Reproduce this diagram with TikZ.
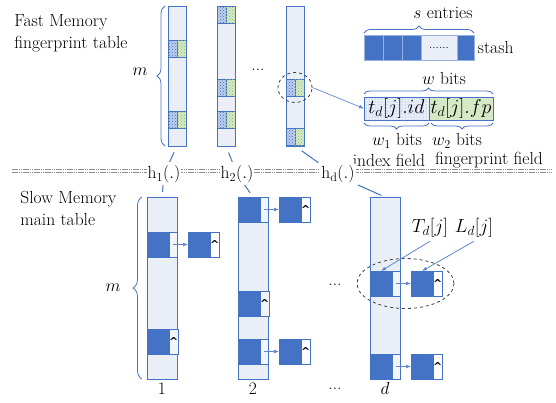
\RequirePackage{fix-cm}
\documentclass[tikz,border=0pt]{standalone}
\usepackage{fontspec}
\newfontfamily\capfont{DejaVu Sans}
\usetikzlibrary{positioning,calc,patterns,decorations.pathreplacing,arrows.meta,shapes.geometric}
\definecolor{mblue}{HTML}{4472C4}
\definecolor{mpale}{HTML}{E9EEF7}
\definecolor{mgreen}{HTML}{D5E9C6}
\definecolor{mdot}{HTML}{8FBF6F}
\definecolor{mgray}{HTML}{8C8C8C}
\newcommand{\nilptr}{\textasciicircum}
\tikzset{
  fcol/.style={draw=mblue,fill=mpale,inner sep=0,outer sep=0,minimum width=18pt,minimum height=140pt},
  scol/.style={fcol,minimum width=30pt,minimum height=182pt},
  idcell/.style={draw=mblue,fill=mblue!35,postaction={pattern=crosshatch dots,pattern color=mblue},inner sep=0,outer sep=0,minimum width=9pt,minimum height=17pt},
  fpcell/.style={draw=mblue,fill=mgreen,postaction={pattern=crosshatch dots,pattern color=mdot},inner sep=0,outer sep=0,minimum width=9pt,minimum height=17pt},
  dcell/.style={draw=mblue,fill=mblue,inner sep=0,outer sep=0,minimum width=22pt,minimum height=25pt},
  pcell/.style={draw=mblue,fill=mpale!60!white,inner sep=0,outer sep=0,minimum width=8pt,minimum height=25pt,font=\capfont\bfseries\fontsize{11}{11}\selectfont},
  stcell/.style={dcell,draw=mblue!55!white,minimum width=19pt},
  idfield/.style={draw=mblue,fill=mblue!12,postaction={pattern=dots,pattern color=mblue!70},inner sep=0,outer sep=0,minimum width=65pt,minimum height=23pt,font=\fontsize{20}{20}\selectfont},
  fpfield/.style={draw=mblue,fill=mgreen,inner sep=0,outer sep=0,minimum width=64pt,minimum height=23pt,font=\fontsize{20}{20}\selectfont},
  hashline/.style={draw=mblue,line width=1pt},
  ptr/.style={draw=mblue!85,line width=.7pt,-{Latex[length=5pt,width=4pt]}},
  brc/.style={draw=mblue,line width=.8pt,decorate,decoration={brace,amplitude=6pt}},
  ring/.style={ellipse,draw=black!75,dashed,line width=.8pt,inner sep=0},
  sep/.style={draw=mgray,line width=.5pt,dash pattern=on 1.5pt off .7pt},
  hlab/.style={fill=white,inner sep=1pt},
}
\begin{document}
\begin{tikzpicture}[x=1pt,y=-1pt,line width=.8pt,every node/.style={font=\fontsize{17.5}{22}\selectfont}]
\useasboundingbox (0,0) rectangle (556,402);
% fast memory: fingerprint table
\node[anchor=north west,align=left,inner sep=0] (fasttxt) at (14,14) {Fast Memory\\fingerprint table};
\foreach \n/\x in {f1/168,f2/217,fd/286} \node[fcol,anchor=north west] (\n) at (\x,6) {};
\foreach \x/\y [count=\i] in {168/40,168/111,217/6,217/79,217/111,286/79,286/128} {
  \node[idcell,anchor=north west] (id\i) at (\x,\y) {};
  \node[fpcell,right=0pt of id\i] (fp\i) {};
}
\draw[brc,decoration={amplitude=8pt}] ([xshift=-3pt]f1.south west) -- ([xshift=-3pt]f1.north west);
\node (mf) at (140,72) {$m$};
\node (dotsf) at (258,70) {...};
% stash
\node[stcell,anchor=north west] (st1) at (364,35) {};
\node[stcell,right=0pt of st1] (st2) {};
\node[stcell,right=0pt of st2] (st3) {};
\node[stcell,fill=mpale,minimum width=36pt,font=\fontsize{12}{12}\selectfont,right=0pt of st3] (st4) {......};
\node[stcell,minimum width=17pt,right=0pt of st4] (st5) {};
\draw[brc,decoration={amplitude=7pt}] ([yshift=2pt]st1.north west) -- ([yshift=2pt]st5.north east);
\node (stxt) at (443,13) {$s$ entries};
\node[right=0pt of st5] (stashtxt) {stash};
% one slot of the fingerprint table
\node[idfield,anchor=north west] (wid) at (364,97) {$t_d[j].id$};
\node[fpfield,right=0pt of wid] (wfp) {$t_d[j].fp$};
\draw[brc] ([yshift=3pt]wid.north west) -- ([yshift=3pt]wfp.north east);
\node (wtxt) at (444,78) {$w$ bits};
\draw[brc] ([yshift=-3pt]wid.south east) -- ([yshift=-3pt]wid.south west);
\draw[brc] ([yshift=-3pt]wfp.south east) -- ([xshift=2pt,yshift=-3pt]wfp.south west);
\node (w1txt) at (397,141) {$w_1$ bits};
\node (w2txt) at (457,141) {$w_2$ bits};
\node (idxtxt) at (389,160) {index field};
\node (fptxt) at (489,160) {fingerprint field};
\node[ring,minimum width=34pt,minimum height=30pt] (ringf) at (id6.east) {};
\draw[ptr] (ringf.east) -- (wid.west);
% separator and hash functions
\foreach \y in {169.5,172.5} \draw[sep] (12,\y) -- (552,\y);
\node[hlab] (h1) at (164,174) {$\mathrm{h}_1(.)$};
\node[hlab] (h2) at (237,174) {$\mathrm{h}_2(.)$};
\node[hlab] (hd) at (338,174) {$\mathrm{h}_\mathrm{d}(.)$};
% slow memory: main table
\node[anchor=north west,align=left,inner sep=0] (slowtxt) at (20,191) {Slow Memory\\main table};
\foreach \n/\x in {s1/147,s2/238,sd/370} \node[scol,anchor=north west] (\n) at (\x,197) {};
\foreach \n/\x/\y/\t in {c1/147/232/{},c2/147/329/\nilptr,c3/238/197/{},c4/238/291/\nilptr,c5/238/339/{},c6/370/271/{},c7/370/354/{}} {
  \node[dcell,anchor=north west] (\n) at (\x,\y) {};
  \node[pcell,right=0pt of \n] (\n p) {\t};
}
\foreach \n in {1,3,5,6,7} {
  \node[dcell,right=11pt of c\n p] (l\n) {};
  \node[pcell,fill=white,right=0pt of l\n] (l\n p) {\nilptr};
  \draw[ptr] (c\n p.center) -- (l\n.west);
}
\draw[hashline,shorten <=7pt,shorten >=2pt] (f1.south) -- (h1);
\draw[hashline,shorten <=1pt,shorten >=5pt] (h1) -- (s1.north);
\draw[hashline,shorten <=7pt,shorten >=2pt] (f2.south) -- (h2);
\draw[hashline,shorten <=1pt,shorten >=5pt] (h2) -- (s2.north);
\draw[hashline,shorten <=8pt,shorten >=2pt] (fd.south) -- (hd.north west);
\draw[hashline,shorten <=2pt,shorten >=4pt] (hd.south east) -- (sd.north);
\draw[brc,decoration={amplitude=9pt}] ([xshift=-5pt]s1.south west) -- ([xshift=-5pt]s1.north west);
\node (ms) at (113,288) {$m$};
\node (dotsm) at (335,285) {...};
\node (dotsb) at (335,389) {...};
\foreach \n/\t in {s1/1,s2/2,sd/$d$} \node[below=0pt of \n] (n\n) {\t};
% one bucket with its list
\node[ring,minimum width=97pt,minimum height=50pt] (rings) at ($(c6p.east)!.5!(l6.west)$) {};
\node (tlab) at (430,228) {\fontsize{19}{19}\selectfont$T_d[j]$};
\node (llab) at (474,228) {\fontsize{19}{19}\selectfont$L_d[j]$};
\draw[ptr,line width=.8pt] (tlab.south) -- (c6.north);
\draw[ptr,line width=.8pt] (llab.south) -- (l6.north);
\end{tikzpicture}
\end{document}
